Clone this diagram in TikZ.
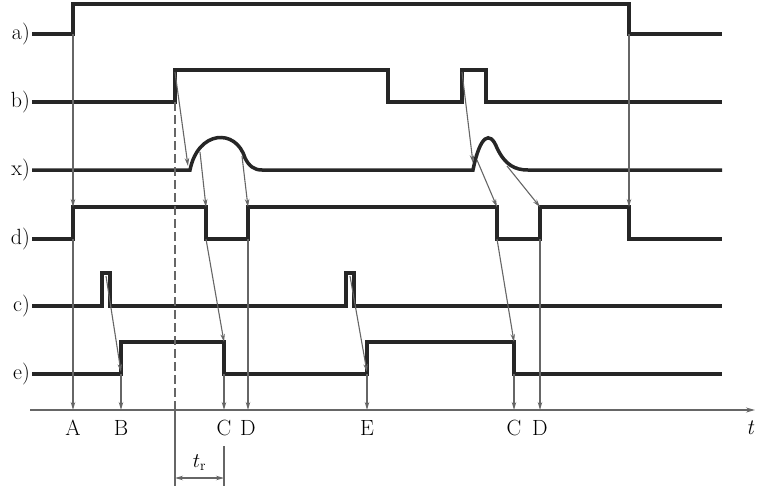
\documentclass[tikz,border=0pt]{standalone}
\usetikzlibrary{arrows.meta}
\begin{document}
\begin{tikzpicture}[x=1pt, y=-1pt,
        sig/.style={line width=3.5pt, black!85, line join=miter},
        evt/.style={line width=1.1pt, black!60, -{Stealth[length=8pt, width=4.5pt]}},
        lbl/.style={font=\fontsize{22}{26}\selectfont, inner sep=1pt}]
        \useasboundingbox (0,0) rectangle (760,490);

        % Row labels
        \foreach \name/\y in {a/34, b/102, x/170, d/239, c/306, e/374} {
            \node[lbl, anchor=east] (row\name) at (31,\y) {\name)};
        }

        % Signals
        \draw[sig] (32,34) -- (73,34) -- (73,4) -- (629,4) -- (629,34) -- (722,34);
        \draw[sig] (32,102) -- (175,102) -- (175,70) -- (388,70) -- (388,102) -- (462,102)
                   -- (462,70) -- (486,70) -- (486,102) -- (722,102);
        \draw[sig] (32,170) -- (190,170) .. controls (198,130) and (236,128) .. (245,158)
                   .. controls (249,166) and (254,170) .. (262,170) -- (473,170)
                   .. controls (480,135) and (490,130) .. (497,148)
                   .. controls (505,165) and (515,170) .. (528,170) -- (722,170);
        \draw[sig] (32,239) -- (73,239) -- (73,207) -- (206,207) -- (206,239) -- (248,239)
                   -- (248,207) -- (497,207) -- (497,239) -- (540,239) -- (540,207)
                   -- (629,207) -- (629,239) -- (722,239);
        \draw[sig] (32,306) -- (102,306) -- (102,273) -- (110,273) -- (110,306) -- (346,306)
                   -- (346,273) -- (354,273) -- (354,306) -- (722,306);
        \draw[sig] (32,374) -- (121,374) -- (121,342) -- (224,342) -- (224,374) -- (367,374)
                   -- (367,342) -- (514,342) -- (514,374) -- (722,374);

        % Time axis
        \draw[line width=1.3pt, black!60, -{Stealth[length=9pt, width=5pt]}] (30,410) -- (755,410) coordinate (tend);
        \node[lbl, font=\fontsize{22}{26}\selectfont\itshape] (tlab) at (750,428) {t};

        % Event points
        \coordinate (aR) at (73,34);    \coordinate (aF) at (629,34);
        \coordinate (bR) at (175,72);   \coordinate (bP) at (462,72);
        \coordinate (xS1) at (188,166); \coordinate (xS2) at (473,163);
        \coordinate (xU1) at (200,152); \coordinate (xD1) at (242,156);
        \coordinate (xU2) at (477,160); \coordinate (xD2) at (507,166);
        \coordinate (dR0) at (73,207);  \coordinate (dR0b) at (73,239);
        \coordinate (dF1) at (206,207); \coordinate (dF1b) at (206,239);
        \coordinate (dR1) at (248,207); \coordinate (dR1b) at (248,239);
        \coordinate (dF2) at (497,207); \coordinate (dF2b) at (497,239);
        \coordinate (dR2) at (540,207); \coordinate (dR2b) at (540,239);
        \coordinate (dF3) at (629,207);
        \coordinate (cP1) at (106,276); \coordinate (cP2) at (350,276);
        \coordinate (eR1) at (121,372); \coordinate (eR1b) at (121,374);
        \coordinate (eF1) at (224,342); \coordinate (eF1b) at (224,374);
        \coordinate (eR2) at (367,372); \coordinate (eR2b) at (367,374);
        \coordinate (eF2) at (514,342); \coordinate (eF2b) at (514,374);

        % Axis marks
        \foreach \n/\x/\t in {A/73/A, B/121/B, C1/224/C, D1/248/D, E/367/E, C2/514/C, D2/540/D} {
            \coordinate (ax\n) at (\x,410);
            \node[lbl, anchor=north] (lab\n) at (\x,419) {\t};
        }

        % Cause -> effect
        \draw[evt] (aR) -- (dR0);
        \draw[evt] (aF) -- (dF3);
        \draw[evt] (bR) -- (xS1);
        \draw[evt] (bP) -- (xS2);
        \draw[evt] (xU1) -- (dF1);
        \draw[evt] (xD1) -- (dR1);
        \draw[evt] (xU2) -- (dF2);
        \draw[evt] (xD2) -- (dR2);
        \draw[evt] (dF1b) -- (eF1);
        \draw[evt] (dF2b) -- (eF2);
        \draw[evt] (cP1) -- (eR1);
        \draw[evt] (cP2) -- (eR2);

        % Down to the axis
        \draw[evt] (dR0b) -- (axA);
        \draw[evt] (eR1b) -- (axB);
        \draw[evt] (eF1b) -- (axC1);
        \draw[evt] (dR1b) -- (axD1);
        \draw[evt] (eR2b) -- (axE);
        \draw[evt] (eF2b) -- (axC2);
        \draw[evt] (dR2b) -- (axD2);

        % Reaction time t_r
        \draw[line width=1.1pt, black!60, dash pattern=on 9pt off 4pt] (175,102) -- (175,410) coordinate (trL);
        \draw[line width=1.1pt, black!60] (trL) -- (175,486);
        \draw[line width=1.1pt, black!60] (224,446) -- (224,486);
        \coordinate (trA) at (175,478); \coordinate (trB) at (224,478);
        \draw[line width=1.1pt, black!60, {Stealth[length=8pt, width=4.5pt]}-{Stealth[length=8pt, width=4.5pt]}] (trA) -- (trB);
        \node[lbl, anchor=south] (trlab) at (199.5,472) {$t_\mathrm{r}$};
\end{tikzpicture}
\end{document}
